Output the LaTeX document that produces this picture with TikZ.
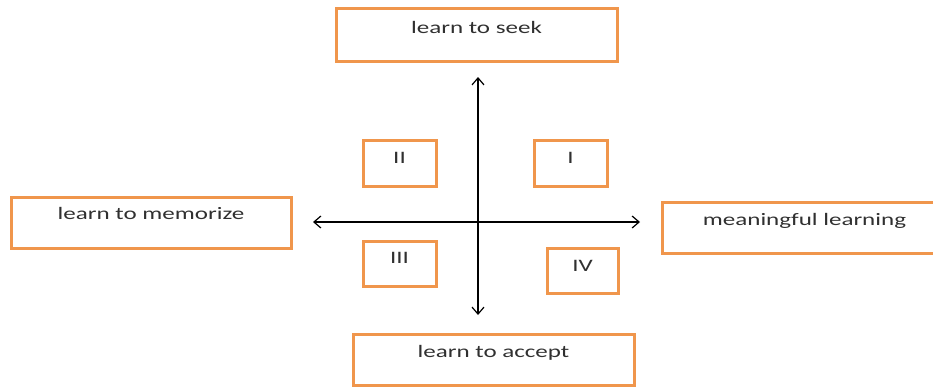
\documentclass[tikz,border=0pt]{standalone}
\usepackage{fontspec}
\setmainfont{Carlito}
\usepackage{graphicx}
\usetikzlibrary{arrows.meta}

\definecolor{boxorange}{RGB}{240,150,76}
\definecolor{txtgray}{RGB}{48,48,48}
\newcommand{\wtext}[1]{\scalebox{1.43}[1]{#1}}

\tikzset{
  lbox/.style n args={3}{draw=boxorange, line width=3pt, anchor=base,
    inner xsep=0pt, inner ysep=0pt, text=txtgray,
    font=\fontsize{17.5}{20}\selectfont,
    minimum width=#1, text height=#2, text depth=#3},
  axis/.style={<->, >={Straight Barb[length=7pt,width=12pt]}, line width=1.2pt}
}

\begin{document}
\begin{tikzpicture}[x=1pt,y=-1pt]
\useasboundingbox (0,0) rectangle (933,386);

% Define nodes
\node[lbox={281pt}{25pt}{28pt}] (seek)   at (476.5,33)  {\wtext{learn to seek}};
\node[lbox={280pt}{22pt}{29pt}] (memo)   at (151,219)   {\wtext{learn to memorize}};
\node[lbox={285pt}{23pt}{28pt}] (mean)   at (804.5,225) {\wtext{meaningful learning}};
\node[lbox={281pt}{23pt}{28pt}] (accept) at (493.5,357) {\wtext{learn to accept}};

\node[lbox={73pt}{23pt}{23pt}] (qtwo)   at (399.5,163) {\wtext{II}};
\node[lbox={73pt}{23pt}{23pt}] (qone)   at (570.5,163) {\wtext{I}};
\node[lbox={73pt}{22pt}{23pt}] (qthree) at (399.5,263) {\wtext{III}};
\node[lbox={71pt}{23pt}{22pt}] (qfour)  at (582.5,271) {\wtext{IV}};

% Axis ends
\coordinate (up)    at (478,77);
\coordinate (down)  at (478,315);
\coordinate (left)  at (313,222);
\coordinate (right) at (640,222);

% Connect the nodes
\draw[axis] (down) -- (up);
\draw[axis] (left) -- (right);

\end{tikzpicture}
\end{document}
